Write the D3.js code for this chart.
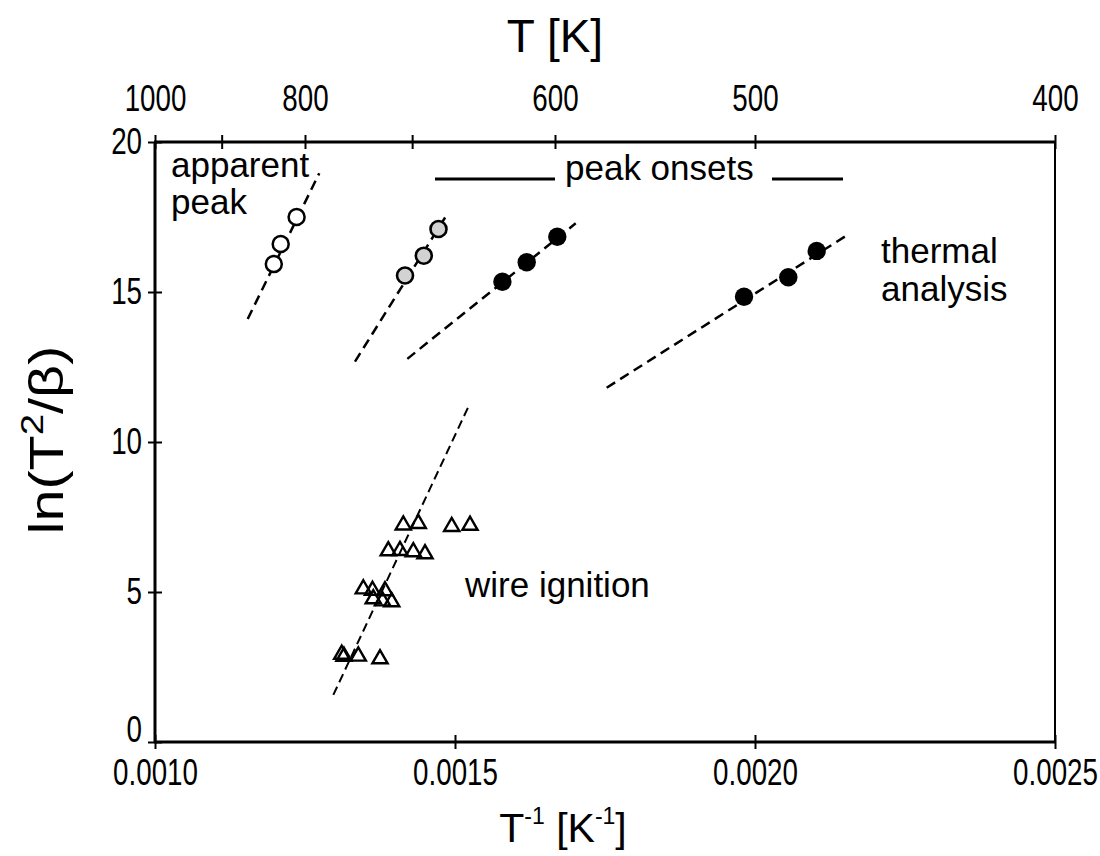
<!DOCTYPE html>
<html>
<head>
<meta charset="utf-8">
<script src="https://cdn.jsdelivr.net/npm/d3@7"></script>
<style>
  html, body { margin: 0; padding: 0; background: #fff; }
  svg { display: block; }
  text { font-family: "Liberation Sans", Arial, sans-serif; fill: #000; }
</style>
</head>
<body>
<svg id="chart" width="1100" height="856"></svg>
<script>
// ---------------- data ----------------
const xTicks = [0.0010, 0.0015, 0.0020, 0.0025];
const xTickLabels = ["0.0010", "0.0015", "0.0020", "0.0025"];
const yTicks = [0, 5, 10, 15, 20];
const topTickT = [1000, 900, 800, 700, 600, 500, 400];
const topTickLabels = ["1000", "", "800", "", "600", "500", "400"];

// apparent peak (open circles)
const apparentX = [0.0011980, 0.0012095, 0.0012360];
const apparentY = [15.93, 16.60, 17.50];
const apparentFitX = [0.0011545, 0.0012738];
const apparentFitY = [14.10, 18.96];

// peak onsets, grey circles
const onsetGreyX = [0.0014167, 0.0014480, 0.0014725];
const onsetGreyY = [15.55, 16.21, 17.10];
const onsetGreyFitX = [0.0013333, 0.0014878];
const onsetGreyFitY = [12.68, 17.62];

// peak onsets, black circles
const onsetBlackX = [0.0015790, 0.0016195, 0.0016705];
const onsetBlackY = [15.34, 15.99, 16.84];
const onsetBlackFitX = [0.0014205, 0.0017012];
const onsetBlackFitY = [12.77, 17.29];

// thermal analysis (black circles)
const thermalX = [0.0019817, 0.0020555, 0.0021028];
const thermalY = [14.84, 15.49, 16.37];
const thermalFitX = [0.0017528, 0.0021555];
const thermalFitY = [11.81, 16.92];

// wire ignition (open triangles)
const wireX = [0.0014138, 0.0014388, 0.0014945, 0.0015250,
               0.0013888, 0.0014083, 0.0014305, 0.0014500,
               0.0013472, 0.0013625, 0.0013833, 0.0013638, 0.0013792, 0.0013945,
               0.0013112, 0.0013150, 0.0013388, 0.0013750];
const wireY = [7.23, 7.28, 7.18, 7.22,
               6.37, 6.38, 6.34, 6.27,
               5.10, 5.05, 5.04, 4.77, 4.70, 4.67,
               2.92, 2.85, 2.86, 2.77];
const wireFitX = [0.0012972, 0.0015250];
const wireFitY = [1.57, 11.29];

// ---------------- drawing ----------------
const svg = d3.select("#chart");
const pL = 155, pR = 1055, pT = 142, pB = 742;
const x = d3.scaleLinear().domain([0.0010, 0.0025]).range([pL, pR]);
const y = d3.scaleLinear().domain([0, 20]).range([pB, pT]);

const zip = (a, b) => a.map((v, i) => [v, b[i]]);
const line = d3.line().x(d => x(d[0])).y(d => y(d[1]));

// fit lines
const fits = [
  [apparentFitX, apparentFitY, 2.5, "10,6"],
  [onsetGreyFitX, onsetGreyFitY, 2.5, "10,6"],
  [onsetBlackFitX, onsetBlackFitY, 2.5, "10,6"],
  [thermalFitX, thermalFitY, 2.5, "10,6"],
  [wireFitX, wireFitY, 2, "9,5"]
];
svg.append("g").selectAll("path").data(fits).join("path")
  .attr("d", d => line(zip(d[0], d[1])))
  .attr("fill", "none").attr("stroke", "#000")
  .attr("stroke-width", d => d[2]).attr("stroke-dasharray", d => d[3]);

// markers
svg.append("g").selectAll("circle").data(zip(apparentX, apparentY)).join("circle")
  .attr("cx", d => x(d[0])).attr("cy", d => y(d[1])).attr("r", 8)
  .attr("fill", "#fff").attr("stroke", "#000").attr("stroke-width", 2.5);

svg.append("g").selectAll("circle").data(zip(onsetGreyX, onsetGreyY)).join("circle")
  .attr("cx", d => x(d[0])).attr("cy", d => y(d[1])).attr("r", 8)
  .attr("fill", "#d2d2d2").attr("stroke", "#000").attr("stroke-width", 2.6);

svg.append("g").selectAll("circle").data(zip(onsetBlackX, onsetBlackY).concat(zip(thermalX, thermalY))).join("circle")
  .attr("cx", d => x(d[0])).attr("cy", d => y(d[1])).attr("r", 9.2)
  .attr("fill", "#000");

const tri = d3.symbol().type(d3.symbolTriangle).size(100);
svg.append("g").selectAll("path").data(zip(wireX, wireY)).join("path")
  .attr("transform", d => `translate(${x(d[0])},${y(d[1])})`)
  .attr("d", tri).attr("fill", "none").attr("stroke", "#000").attr("stroke-width", 2.4);

// axes
const tickFont = 37, narrowF = 0.75;

const gB = svg.append("g").attr("transform", `translate(0,${pB})`)
  .call(d3.axisBottom(x).tickValues(xTicks).tickFormat((d, i) => xTickLabels[i]).tickSize(7).tickSizeOuter(0).tickPadding(7));
const gT = svg.append("g").attr("transform", `translate(0,${pT})`)
  .call(d3.axisTop(x).tickValues(topTickT.map(t => 1 / t)).tickFormat((d, i) => topTickLabels[i]).tickSize(7).tickSizeOuter(0).tickPadding(24));
const gL = svg.append("g").attr("transform", `translate(${pL},0)`)
  .call(d3.axisLeft(y).tickValues(yTicks).tickSize(7).tickSizeOuter(0).tickPadding(6));

[gB, gT].forEach(g => g.selectAll(".tick line").attr("y1", -7).attr("y2", 7).attr("stroke-width", 2));
gL.selectAll(".tick line").attr("x1", -7).attr("x2", 7).attr("stroke-width", 2);
[gB, gT, gL].forEach(g => {
  g.select(".domain").remove();
  g.selectAll(".tick text").attr("font-size", tickFont).attr("font-family", "Liberation Sans, Arial, sans-serif");
});
gB.selectAll(".tick text").attr("y", 17).attr("dy", "0.71em");
gL.selectAll(".tick text").attr("x", -13 / narrowF);
gL.selectAll(".tick text").filter(d => d === 0).attr("dy", "-0.02em");
// condensed look of the tick labels (narrow glyphs)
[gB, gT, gL].forEach(g => g.selectAll(".tick text").attr("transform", `scale(${narrowF},1)`));

// frame
svg.append("line").attr("x1", pL - 1).attr("x2", pR + 1).attr("y1", pT).attr("y2", pT).attr("stroke", "#000").attr("stroke-width", 3);
svg.append("line").attr("x1", pL - 1).attr("x2", pR + 1).attr("y1", pB).attr("y2", pB).attr("stroke", "#000").attr("stroke-width", 3);
svg.append("line").attr("x1", pL).attr("x2", pL).attr("y1", pT).attr("y2", pB).attr("stroke", "#000").attr("stroke-width", 3);
svg.append("line").attr("x1", pR).attr("x2", pR).attr("y1", pT).attr("y2", pB).attr("stroke", "#000").attr("stroke-width", 2);

// axis titles
svg.append("text").attr("x", 555).attr("y", 52).attr("text-anchor", "middle").attr("font-size", 46).text("T [K]");

const bt = svg.append("text").attr("x", 563).attr("y", 842).attr("text-anchor", "middle").attr("font-size", 41);
bt.append("tspan").text("T");
bt.append("tspan").attr("font-size", 23).attr("dy", -18).text("-1");
bt.append("tspan").attr("dy", 18).text(" [K");
bt.append("tspan").attr("font-size", 23).attr("dy", -18).text("-1");
bt.append("tspan").attr("dy", 18).text("]");

const yt = svg.append("text").attr("transform", "translate(63,440) rotate(-90) scale(1.2,1)").attr("text-anchor", "middle").attr("font-size", 48);
yt.append("tspan").text("ln(T");
yt.append("tspan").attr("font-size", 32).attr("dy", -20).text("2");
yt.append("tspan").attr("dy", 20).text("/β)");

// annotations
const annFont = 35;
svg.append("text").attr("x", 171).attr("y", 177).attr("font-size", annFont).text("apparent");
svg.append("text").attr("x", 171).attr("y", 214).attr("font-size", annFont).text("peak");
svg.append("text").attr("x", 565).attr("y", 180).attr("font-size", annFont).text("peak onsets");
svg.append("line").attr("x1", 435).attr("x2", 555).attr("y1", 179).attr("y2", 179).attr("stroke", "#000").attr("stroke-width", 3);
svg.append("line").attr("x1", 772).attr("x2", 843).attr("y1", 179).attr("y2", 179).attr("stroke", "#000").attr("stroke-width", 3);
svg.append("text").attr("x", 881).attr("y", 263).attr("font-size", annFont).text("thermal");
svg.append("text").attr("x", 881).attr("y", 301).attr("font-size", annFont).text("analysis");
svg.append("text").attr("x", 465).attr("y", 597).attr("font-size", annFont).text("wire ignition");
</script>
</body>
</html>
